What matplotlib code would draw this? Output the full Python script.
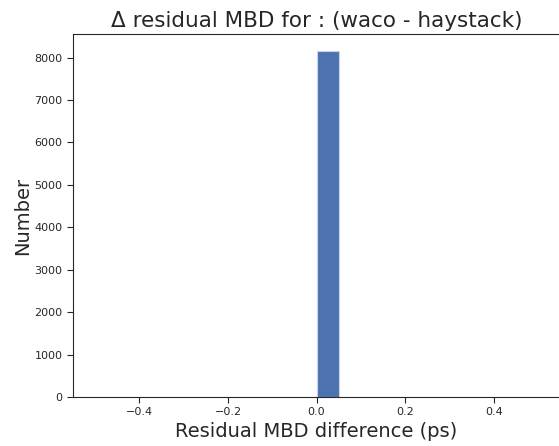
import matplotlib
matplotlib.use("Agg")
import matplotlib.pyplot as plt
import seaborn as sns

sns.set_style("ticks")
plt.rcParams['font.family'] = ['DejaVu Sans']

# Histogram of residual MBD differences (single populated bin)
bin_edges = [0.0, 0.05]
counts = [8150]

title = "\u0394 residual MBD for : (waco - haystack)"
xlabel = "Residual MBD difference (ps)"
ylabel = "Number"

fig = plt.figure(figsize=(5.59, 4.46), dpi=100)
ax = fig.add_axes([0.1306, 0.1099, 0.8714, 0.8139])
ax.spines["right"].set_visible(False)

ax.bar(bin_edges[0], counts[0], width=bin_edges[1] - bin_edges[0], align="edge",
       color="#4C72B0", edgecolor="#c8d3e6", linewidth=0.8)

ax.set_xlim(-0.55, 0.55)
ax.set_ylim(0, counts[0] * 1.05)
ax.set_xticks([-0.4, -0.2, 0.0, 0.2, 0.4])
ax.set_yticks(range(0, 8001, 1000))
ax.tick_params(labelsize=8, colors="#262626", length=4)
for s in ax.spines.values():
    s.set_color("#262626")

ax.set_title(title, fontsize=15.5, color="#262626", pad=5)
ax.set_xlabel(xlabel, fontsize=14, color="#262626", labelpad=3)
ax.set_ylabel(ylabel, fontsize=14, color="#262626", labelpad=1.5)

fig.savefig("out.png", dpi=100)
